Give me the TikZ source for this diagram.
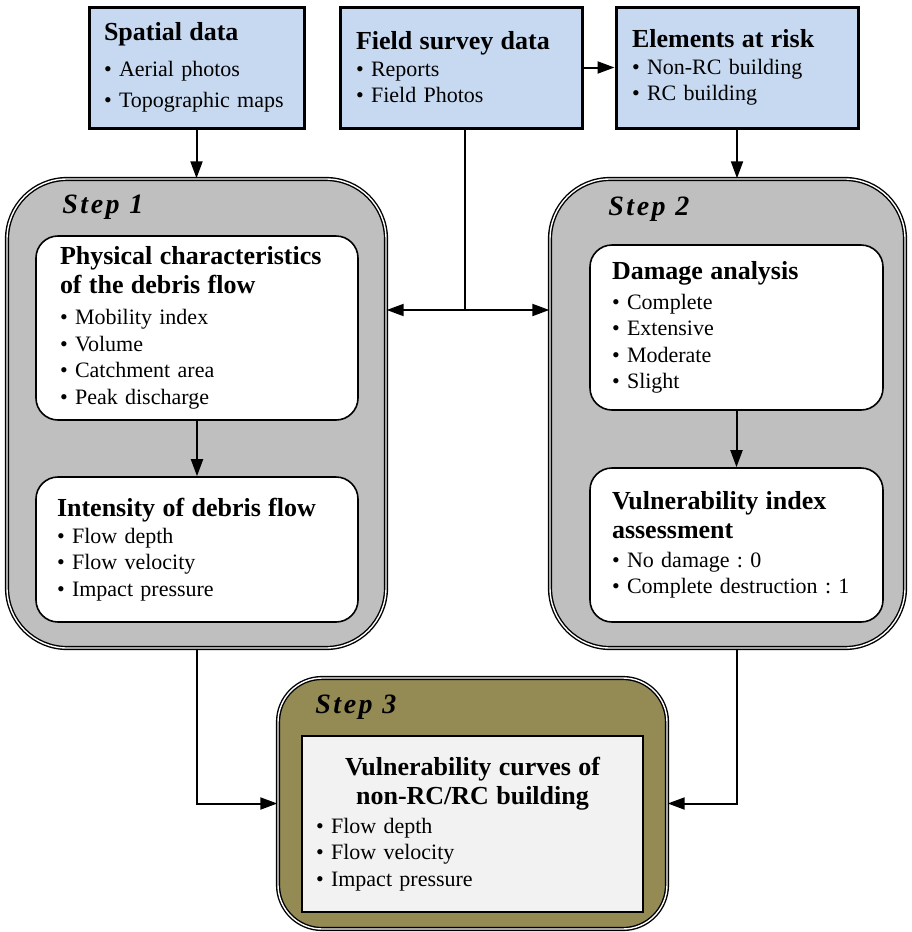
\documentclass[tikz,border=0pt]{standalone}
\usepackage{fontspec}
\setmainfont{Liberation Serif}
\newfontfamily\stepfont[LetterSpace=9]{Liberation Serif}
\usetikzlibrary{arrows.meta}
\definecolor{datablue}{RGB}{198, 217, 241}
\definecolor{stepgray}{RGB}{191, 191, 191}
\definecolor{stepolive}{RGB}{148, 138, 84}
\definecolor{curvegray}{RGB}{242, 242, 242}
\newcommand{\boxtitle}[1]{{\fontsize{13}{15}\selectfont\bfseries #1}}
\frenchspacing

\begin{document}
\begin{tikzpicture}[x=0.5pt, y=-0.5pt,
    databox/.style={draw, line width=1.5pt, fill=datablue, align=left,
        inner ysep=0pt, font={\fontsize{11}{13.25}\selectfont}},
    stepbox/.style={draw, line width=0.7pt, double, double distance=0.7pt,
        rounded corners=30pt, fill=stepgray},
    innerbox/.style={draw, line width=0.8pt, rounded corners=11pt, fill=white,
        align=left, inner ysep=0pt, font={\fontsize{11}{13.25}\selectfont}},
    steplabel/.style={anchor=base west, inner sep=0pt,
        font={\stepfont\fontsize{14}{16}\selectfont\bfseries\itshape}},
    arr/.style={-{Triangle[length=8.5pt, width=6pt]}, line width=1pt}]
    \useasboundingbox (0,0) rectangle (911,932);

    % Data sources
    \node[databox, minimum width=107.5pt, minimum height=60.5pt, text width=92.5pt,
        inner xsep=7.5pt] (spatial) at (196.5,67.5)
        {\boxtitle{Spatial data}\\[4.5pt] • Aerial photos\\[2.5pt] • Topographic maps\\[-3pt]};
    \node[databox, minimum width=121pt, minimum height=60.5pt, text width=105pt,
        inner xsep=8pt] (field) at (461,67.5)
        {\boxtitle{Field survey data}\\ • Reports\\ • Field Photos};
    \node[databox, minimum width=121pt, minimum height=60.5pt, text width=105pt,
        inner xsep=8pt] (risk) at (737,67.5)
        {\boxtitle{Elements at risk}\\ • Non-RC building\\ • RC building};

    % Step 1
    \node[stepbox, minimum width=189.5pt, minimum height=234.5pt] (step1) at (196.5,413.5) {};
    \node[steplabel] (lab1) at (62,213) {Step 1};
    \node[innerbox, minimum width=161pt, minimum height=92pt, text width=137pt,
        inner xsep=12pt] (phys) at (197,328)
        {\boxtitle{Physical characteristics}\\[1pt] \boxtitle{of the debris flow}\\[2.5pt]
         • Mobility index\\ • Volume\\ • Catchment area\\ • Peak discharge};
    \node[innerbox, minimum width=161pt, minimum height=72.5pt, text width=140pt,
        inner xsep=10.5pt] (intens) at (197,549.5)
        {\boxtitle{Intensity of debris flow}\\ • Flow depth\\ • Flow velocity\\ • Impact pressure};

    % Step 2
    \node[stepbox, minimum width=177.5pt, minimum height=234.5pt] (step2) at (727.5,413.5) {};
    \node[steplabel] (lab2) at (608,215) {Step 2};
    \node[innerbox, minimum width=146.5pt, minimum height=82.5pt, text width=124.5pt,
        inner xsep=11pt] (damage) at (736.5,327.5)
        {\boxtitle{Damage analysis}\\[1.5pt] • Complete\\ • Extensive\\ • Moderate\\ • Slight};
    \node[innerbox, minimum width=146.5pt, minimum height=77pt, text width=124.5pt,
        inner xsep=11pt] (vindex) at (736.5,545)
        {\boxtitle{Vulnerability index}\\[1.5pt] \boxtitle{assessment}\\[1pt]
         • No damage : 0\\ • Complete destruction : 1};

    % Step 3
    \node[stepbox, fill=stepolive, rounded corners=22pt, minimum width=194.5pt,
        minimum height=125.5pt] (step3) at (472.5,803.5) {};
    \node[steplabel] (lab3) at (315,713) {Step 3};
    \node[draw, line width=1pt, fill=curvegray, align=left, inner ysep=0pt, inner xsep=7pt,
        font={\fontsize{11}{13.25}\selectfont}, minimum width=170.5pt, minimum height=88pt,
        text width=156.5pt] (curves) at (472.5,824)
        {\makebox[\linewidth]{\boxtitle{Vulnerability curves of}}\\[1.5pt]
         \makebox[\linewidth]{\boxtitle{non-RC/RC building}}\\[1pt]
         • Flow depth\\ • Flow velocity\\ • Impact pressure};

    % Connectors
    \draw[arr] (spatial.south) -- (step1.north);
    \draw[arr] (field) -- (risk);
    \draw[arr] (risk.south) -- (risk.south |- step2.north);
    \coordinate (fork) at (465,310);
    \draw[line width=1pt] (field.south -| fork) -- (fork);
    \draw[arr] (fork) -- (fork -| step1.east);
    \draw[arr] (fork) -- (fork -| step2.west);
    \draw[arr] (phys) -- (intens);
    \draw[arr] (damage.south) -- (damage.south |- vindex.north);
    \draw[arr] (step1.south) |- (step3.west);
    \draw[arr] (vindex.south |- step2.south) |- (step3.east);
\end{tikzpicture}
\end{document}
